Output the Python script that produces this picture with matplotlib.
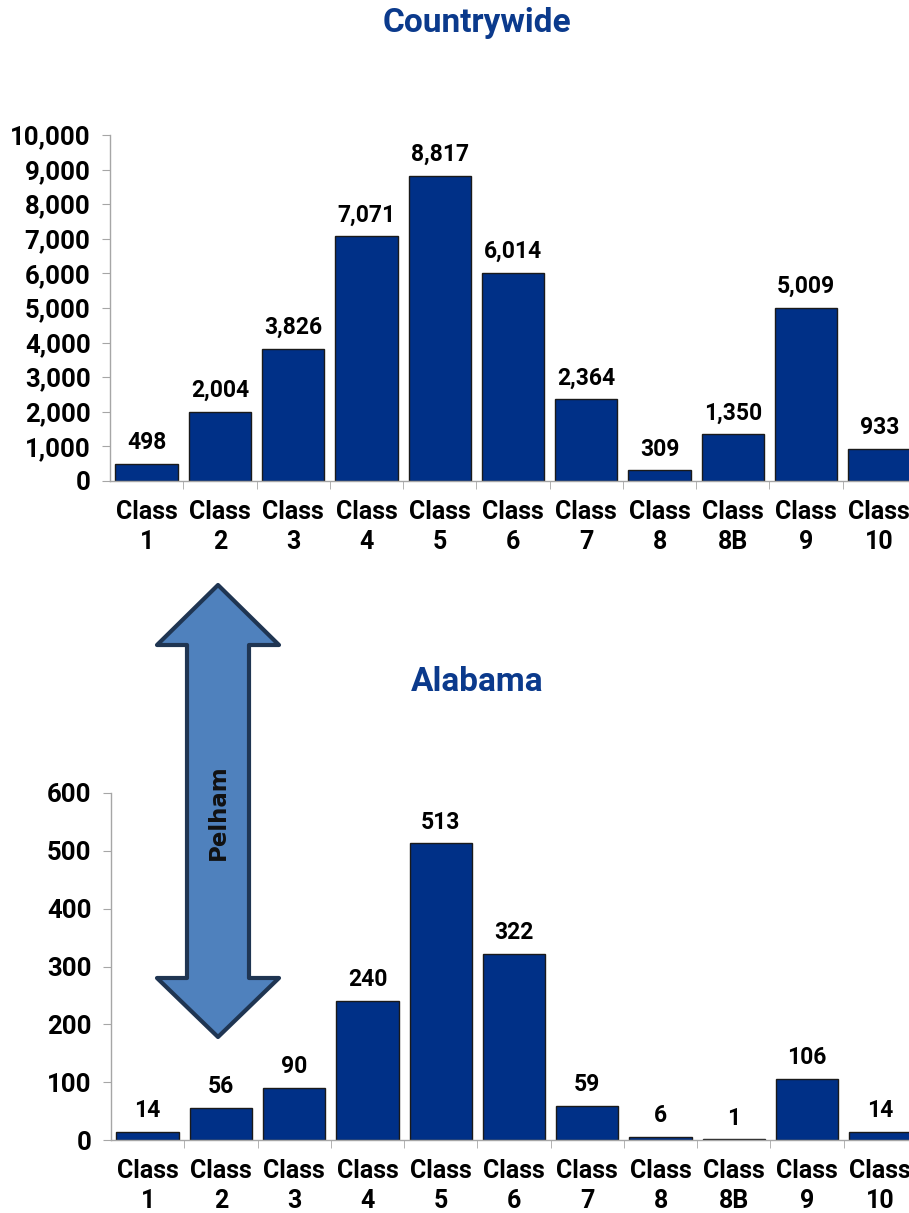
import matplotlib.pyplot as plt
from matplotlib.patches import Polygon
from matplotlib.ticker import FuncFormatter, MultipleLocator

plt.rcParams['font.family'] = ['Roboto', 'DejaVu Sans']
plt.rcParams['font.weight'] = 'bold'

classes = ['Class\n1', 'Class\n2', 'Class\n3', 'Class\n4', 'Class\n5', 'Class\n6',
           'Class\n7', 'Class\n8', 'Class\n8B', 'Class\n9', 'Class\n10']
countrywide = [498, 2004, 3826, 7071, 8817, 6014, 2364, 309, 1350, 5009, 933]
alabama = [14, 56, 90, 240, 513, 322, 59, 6, 1, 106, 14]

BAR = '#003087'
TITLE = '#0B3A8C'
AXIS = '#a6a6a6'

fig = plt.figure(figsize=(9.09, 12.13), dpi=100)
W, H = 909, 1213


def draw_panel(rect, values, ymax, step, title, title_y):
    ax = fig.add_axes(rect)
    x = list(range(len(values)))
    ax.bar(x, values, width=0.85, color=BAR, edgecolor='#1a1a1a', linewidth=1.0, zorder=2)
    for xi, v in zip(x, values):
        ax.annotate(f'{v:,}', (xi, v), xytext=(0, 7), textcoords='offset points',
                    ha='center', va='bottom', fontsize=16.5, fontweight='bold')
    ax.set_xlim(-0.5, len(values) - 0.5)
    ax.set_ylim(0, ymax)
    ax.yaxis.set_major_locator(MultipleLocator(step))
    ax.yaxis.set_major_formatter(FuncFormatter(lambda v, p: f'{int(v):,}'))
    ax.set_xticks(x)
    ax.set_xticklabels(classes, fontsize=18, fontweight='bold', linespacing=1.3)
    ax.set_xticks([i + 0.5 for i in x[:-1]], minor=True)
    ax.tick_params(axis='x', which='major', length=0, pad=14)
    ax.tick_params(axis='x', which='minor', length=6, color=AXIS, direction='out')
    ax.tick_params(axis='y', length=6, color=AXIS, labelsize=18.5, pad=8)
    for lab in ax.get_yticklabels():
        lab.set_fontweight('bold')
    for s in ['top', 'right']:
        ax.spines[s].set_visible(False)
    for s in ['left', 'bottom']:
        ax.spines[s].set_color(AXIS)
        ax.spines[s].set_linewidth(1.0)
    fig.text(477 / W, 1 - title_y / H, title, ha='center', va='center',
             fontsize=24, fontweight='bold', color=TITLE)
    return ax


draw_panel([110 / W, 1 - 481 / H, 806 / W, 346 / H], countrywide, 10000, 1000,
           'Countrywide', 23)
draw_panel([111 / W, 1 - 1140 / H, 806 / W, 347 / H], alabama, 600, 100,
           'Alabama', 682)

# double-headed arrow between the two panels
cx, tip_top, base_top, base_bot, tip_bot = 218, 585, 645, 978, 1037
head, shaft = 61, 31
pts = [(cx, tip_top), (cx + head, base_top), (cx + shaft, base_top),
       (cx + shaft, base_bot), (cx + head, base_bot), (cx, tip_bot),
       (cx - head, base_bot), (cx - shaft, base_bot), (cx - shaft, base_top),
       (cx - head, base_top)]
pts = [(px / W, 1 - py / H) for px, py in pts]
fig.patches.append(Polygon(pts, closed=True, transform=fig.transFigure,
                           facecolor='#4F81BD', edgecolor='#1F3552',
                           linewidth=3, joinstyle='round', zorder=5))
fig.text(cx / W, 1 - 812 / H, 'Pelham', rotation=90, ha='center', va='center',
         fontsize=16.5, fontweight='bold', family=['DejaVu Sans'], color='#111111', zorder=6)

fig.savefig('out.png', dpi=100)
